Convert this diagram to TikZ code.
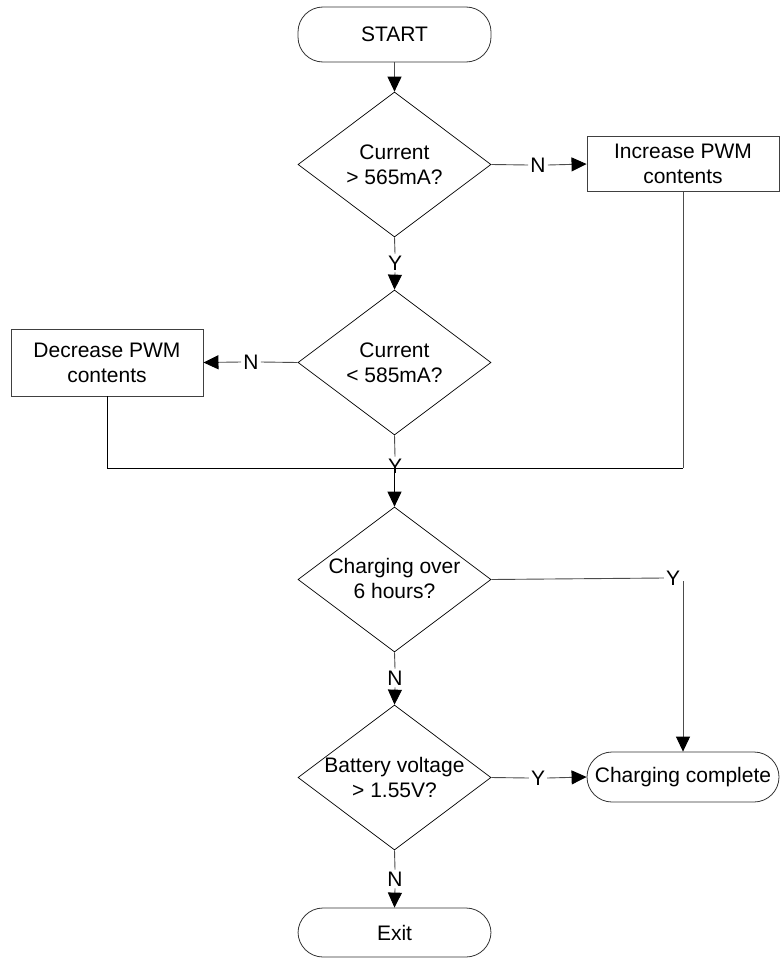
\documentclass[tikz,border=0pt]{standalone}
\usepackage{fontspec}
\setmainfont{Liberation Sans}
\usetikzlibrary{shapes.geometric,arrows.meta}
\begin{document}
\begin{tikzpicture}[x=1pt,y=-1pt,
  every node/.style={font=\fontsize{21}{25}\selectfont},
  dia/.style={draw=black,line width=0.7pt,shape=diamond,inner sep=0pt,minimum width=193pt,minimum height=145pt},
  term/.style={draw=black!80,line width=0.8pt,rectangle,rounded corners=25pt,inner sep=0pt},
  box/.style={draw=black!75,line width=0.9pt,rectangle,inner sep=0pt,minimum width=192pt,align=center},
  txt/.style={align=center,inner sep=0pt},
  lbl/.style={inner sep=2pt},
  conn/.style={draw=black!70,line width=0.9pt},
  tip/.style={-{Triangle[length=15pt,width=14pt,color=black]}},
  arr/.style={conn,tip},
  blk/.style={draw=black,line width=1pt}]
\useasboundingbox (0,0) rectangle (782,958);
% nodes
\node[term,minimum width=193pt,minimum height=55pt] (start) at (394.5,34.5) {START};
\node[dia] (d1) at (394.5,164.5) {};
\node[txt] (t1) at (394.5,165) {Current\\> 565mA?};
\node[box,minimum height=55pt] (inc) at (683,164) {Increase PWM\\contents};
\node[dia] (d2) at (394.5,362.5) {};
\node[txt] (t2) at (394.5,363) {Current\\< 585mA?};
\node[box,minimum height=67pt] (dec) at (107,362.5) {Decrease PWM\\contents};
\node[dia] (d3) at (394.5,579.5) {};
\node[txt] (t3) at (394.5,578) {Charging over\\6 hours?};
\node[dia] (d4) at (394.5,777.5) {};
\node[txt] (t4) at (394.5,777) {Battery voltage\\> 1.55V?};
\node[term,minimum width=192pt,minimum height=50pt] (cc) at (683,777) {Charging complete};
\node[term,minimum width=193pt,minimum height=49pt] (exit) at (394.5,932.5) {Exit};
% labels
\node[lbl] (n1) at (538,165) {N};
\node[lbl] (y1) at (395,263) {Y};
\node[lbl] (n2) at (251,362) {N};
\node[lbl] (y2) at (395,466) {Y};
\node[lbl] (y3) at (673,578) {Y};
\node[lbl] (n3) at (395,678) {N};
\node[lbl] (y4) at (538,778) {Y};
\node[lbl] (n4) at (395,879) {N};
\coordinate (mR) at (683,468);
\coordinate (mC) at (394.5,468);
\coordinate (c3) at (683,581);
% connectors
\draw[arr] (start.south) -- (d1.north);
\draw[conn] (d1.east) -- (n1.west);
\draw[arr] (n1.east) -- (inc.west);
\draw[conn] (d1.south) -- (y1.north);
\draw[arr] (y1.south) -- (d2.north);
\draw[conn] (d2.west) -- (n2.east);
\draw[arr] (n2.west) -- (dec.east);
\draw[conn] (d2.south) -- (y2.north);
\draw[conn] (inc.south) -- (mR);
\draw[blk] (dec.south) |- (mR);
\draw[blk,tip] (mC) -- (d3.north);
\draw[conn] (d3.east) -- (y3.west);
\draw[arr] (c3) -- (cc.north);
\draw[conn] (d3.south) -- (n3.north);
\draw[arr] (n3.south) -- (d4.north);
\draw[conn] (d4.east) -- (y4.west);
\draw[arr] (y4.east) -- (cc.west);
\draw[conn] (d4.south) -- (n4.north);
\draw[arr] (n4.south) -- (exit.north);
\end{tikzpicture}
\end{document}
